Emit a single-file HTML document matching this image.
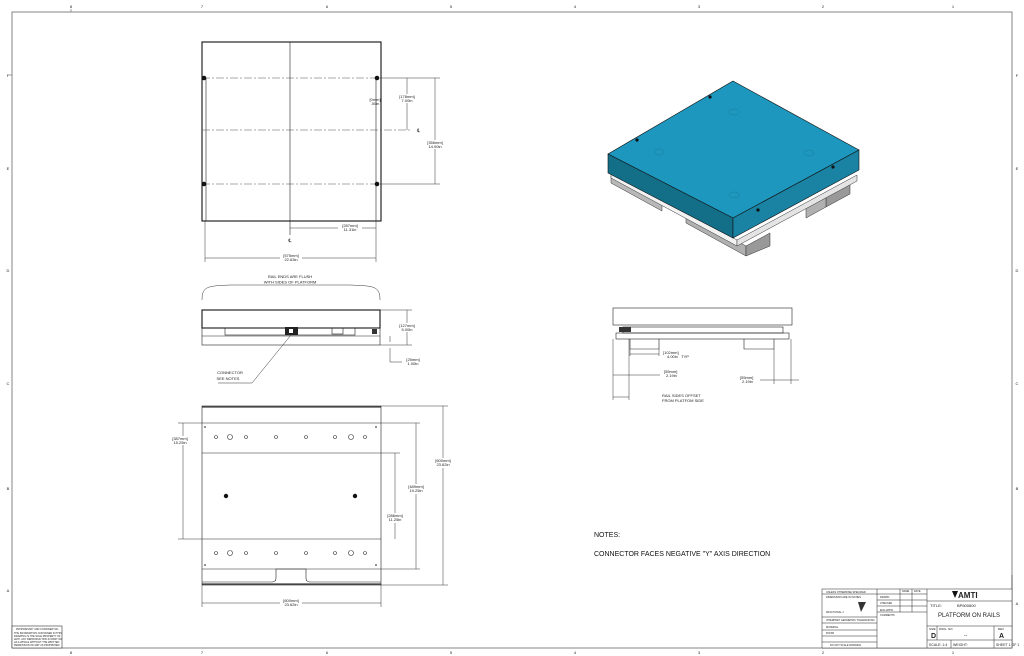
<!DOCTYPE html>
<html><head><meta charset="utf-8"><style>
html,body{margin:0;padding:0;background:#fff}
svg{display:block}
text{font-family:"Liberation Sans",sans-serif;fill:#222}
.t{font-size:4px;text-anchor:middle}
.l{stroke:#222;stroke-width:0.6;fill:none}
.k{stroke:#111;stroke-width:1.1;fill:none}
.c{stroke:#555;stroke-width:0.5;fill:none;stroke-dasharray:8 2 2 2}
.d{stroke:#333;stroke-width:0.5;fill:none}
</style></head><body>
<svg width="1024" height="656" viewBox="0 0 1024 656" xmlns="http://www.w3.org/2000/svg">
<rect x="12" y="12" width="1000" height="636" fill="none" stroke="#666" stroke-width="0.8"/>
<g class="t" style="font-size:4px">
<text x="71" y="8">8</text><text x="202" y="8">7</text><text x="327" y="8">6</text><text x="451" y="8">5</text><text x="575" y="8">4</text><text x="699" y="8">3</text><text x="823" y="8">2</text><text x="953" y="8">1</text>
<text x="71" y="654">8</text><text x="202" y="654">7</text><text x="327" y="654">6</text><text x="451" y="654">5</text><text x="575" y="654">4</text><text x="699" y="654">3</text><text x="823" y="654">2</text><text x="953" y="654">1</text>
<text x="8" y="77">F</text><text x="8" y="170">E</text><text x="8" y="272">D</text><text x="8" y="385">C</text><text x="8" y="490">B</text><text x="8" y="592">A</text>
<text x="1017" y="77">F</text><text x="1017" y="170">E</text><text x="1017" y="272">D</text><text x="1017" y="385">C</text><text x="1017" y="490">B</text><text x="1017" y="605">A</text>
</g>
<g stroke="#666" stroke-width="0.6"><line x1="71" y1="9" x2="71" y2="12"/><line x1="12" y1="75" x2="9" y2="75"/></g>

<!-- TOP VIEW -->
<rect x="202" y="42" width="179" height="179" class="k"/>
<line x1="206" y1="78" x2="206" y2="221" class="l"/><line x1="376" y1="78" x2="376" y2="221" class="l"/>
<line x1="202" y1="78" x2="381" y2="78" class="c"/><line x1="202" y1="184" x2="381" y2="184" class="c"/>
<line x1="202" y1="130" x2="410" y2="130" class="c"/><line x1="290" y1="42" x2="290" y2="235" class="l"/>
<g fill="#111"><circle cx="204" cy="78" r="2.3"/><circle cx="377" cy="78" r="2.3"/><circle cx="204" cy="184" r="2.3"/><circle cx="377" cy="184" r="2.3"/></g>
<g class="d"><line x1="380" y1="78" x2="440" y2="78"/><line x1="380" y1="184" x2="440" y2="184"/>
<line x1="407" y1="78" x2="407" y2="130"/><line x1="435" y1="78" x2="435" y2="184"/>
<line x1="290" y1="228" x2="376" y2="228"/><line x1="205" y1="258" x2="376" y2="258"/>
<line x1="205" y1="221" x2="205" y2="262"/><line x1="376" y1="221" x2="376" y2="262"/></g>
<text x="417" y="132" style="font-size:5px">℄</text><text x="290" y="242" style="font-size:5px" text-anchor="middle">℄</text>
<rect x="398" y="94" width="18" height="9" fill="#fff"/><text class="t" x="407" y="98">[178mm]</text><text class="t" x="407" y="102">7.00in</text>
<rect x="426" y="140" width="18" height="9" fill="#fff"/><text class="t" x="435" y="144">[356mm]</text><text class="t" x="435" y="148">14.00in</text>
<text class="t" x="375" y="101">[0mm]</text><text class="t" x="375" y="105">.00in</text>
<rect x="338" y="223" width="24" height="9" fill="#fff"/><text class="t" x="350" y="227">[287mm]</text><text class="t" x="350" y="231">11.31in</text>
<rect x="280" y="253" width="22" height="9" fill="#fff"/><text class="t" x="291" y="257">[575mm]</text><text class="t" x="291" y="261">22.63in</text>

<!-- SIDE VIEW -->
<path d="M202,300 C202,286 208,286 230,285 L350,285 C374,286 380,286 380,300" class="d"/>
<text class="t" x="290" y="278">RAIL ENDS ARE FLUSH</text><text class="t" x="290" y="283.5">WITH SIDES OF PLATFORM</text>
<rect x="202" y="310" width="178" height="18" class="k"/>
<rect x="202" y="328" width="178" height="17" class="l"/>
<line x1="202" y1="336" x2="380" y2="336" class="l"/>
<rect x="225" y="328" width="130" height="7" class="l"/>
<rect x="332" y="328" width="11" height="6" class="l"/>
<rect x="285" y="327" width="13" height="8" fill="#222"/><rect x="289" y="329" width="4" height="4" fill="#fff"/>
<rect x="372" y="329" width="5" height="5" fill="#333"/>
<g class="d"><line x1="380" y1="310" x2="412" y2="310"/><line x1="380" y1="345" x2="412" y2="345"/><line x1="407" y1="310" x2="407" y2="345"/>
<line x1="390" y1="336" x2="390" y2="342"/><line x1="390" y1="348" x2="390" y2="362"/><line x1="390" y1="362" x2="402" y2="362"/>
<polyline points="291,335 252,383 218,383"/></g>
<rect x="398" y="323" width="18" height="9" fill="#fff"/><text class="t" x="407" y="327">[127mm]</text><text class="t" x="407" y="331">5.00in</text>
<text class="t" x="413" y="361">[25mm]</text><text class="t" x="413" y="365">1.00in</text>
<text class="t" x="230" y="374">CONNECTOR</text><text class="t" x="228" y="380">SEE NOTES</text>

<!-- BOTTOM VIEW -->
<rect x="202" y="406" width="179" height="179" class="l"/>
<line x1="202" y1="407" x2="381" y2="407" class="k"/><line x1="202" y1="584" x2="381" y2="584" class="k"/>
<g class="l"><line x1="202" y1="423" x2="381" y2="423"/><line x1="202" y1="453" x2="381" y2="453"/><line x1="202" y1="539" x2="381" y2="539"/><line x1="202" y1="569" x2="381" y2="569"/>
<path d="M202,582 L272,582 Q276,582 276,578 L276,569 L306,569 L306,578 Q306,582 310,582 L381,582"/></g>
<g fill="none" stroke="#333" stroke-width="0.6">
<circle cx="216" cy="437" r="1.5"/><circle cx="230" cy="437" r="2.5"/><circle cx="246" cy="437" r="1.5"/><circle cx="276" cy="437" r="1.5"/><circle cx="306" cy="437" r="1.5"/><circle cx="335" cy="437" r="1.5"/><circle cx="351" cy="437" r="2.5"/><circle cx="365" cy="437" r="1.5"/>
<circle cx="216" cy="553" r="1.5"/><circle cx="230" cy="553" r="2.5"/><circle cx="246" cy="553" r="1.5"/><circle cx="276" cy="553" r="1.5"/><circle cx="306" cy="553" r="1.5"/><circle cx="335" cy="553" r="1.5"/><circle cx="351" cy="553" r="2.5"/><circle cx="365" cy="553" r="1.5"/></g>
<g fill="#111"><circle cx="226" cy="496" r="2.2"/><circle cx="355" cy="496" r="2.2"/>
<circle cx="205" cy="427" r="0.8"/><circle cx="376" cy="427" r="0.8"/><circle cx="205" cy="565" r="0.8"/><circle cx="376" cy="565" r="0.8"/></g>
<g class="d"><line x1="178" y1="423" x2="202" y2="423"/><line x1="178" y1="539" x2="202" y2="539"/><line x1="183" y1="423" x2="183" y2="539"/>
<line x1="381" y1="406" x2="448" y2="406"/><line x1="381" y1="585" x2="448" y2="585"/><line x1="443" y1="406" x2="443" y2="585"/>
<line x1="381" y1="423" x2="420" y2="423"/><line x1="381" y1="569" x2="420" y2="569"/><line x1="416" y1="423" x2="416" y2="569"/>
<line x1="381" y1="453" x2="400" y2="453"/><line x1="395" y1="453" x2="395" y2="539"/>
<line x1="202" y1="585" x2="202" y2="607"/><line x1="381" y1="585" x2="381" y2="607"/><line x1="202" y1="603" x2="381" y2="603"/></g>
<rect x="170" y="436" width="18" height="9" fill="#fff"/><text class="t" x="180" y="440">[387mm]</text><text class="t" x="180" y="444">15.25in</text>
<rect x="432" y="458" width="22" height="10" fill="#fff"/><text class="t" x="443" y="462">[600mm]</text><text class="t" x="443" y="466">23.62in</text>
<rect x="405" y="484" width="22" height="10" fill="#fff"/><text class="t" x="416" y="488">[489mm]</text><text class="t" x="416" y="492">19.25in</text>
<rect x="384" y="513" width="22" height="10" fill="#fff"/><text class="t" x="395" y="517">[286mm]</text><text class="t" x="395" y="521">11.25in</text>
<rect x="280" y="598" width="22" height="10" fill="#fff"/><text class="t" x="291" y="602">[600mm]</text><text class="t" x="291" y="606">23.62in</text>

<!-- ISO VIEW -->
<g stroke="#333" stroke-width="0.5">
<!-- lower rail bars -->
<polygon points="611,176 662,204 662,211 611,183" fill="#b8b8b8"/>
<polygon points="686,213 746,246 746,256 686,223" fill="#b0b0b0"/>
<polygon points="746,246 770,233 770,246 746,256" fill="#999"/>
<polygon points="826,197 850,184 850,194 826,207" fill="#999"/>
<polygon points="806,208 826,197 826,207 806,218" fill="#b0b0b0"/>
<!-- thin white plates -->
<polygon points="611,172 737,240 737,246 611,178" fill="#f2f2f2"/>
<polygon points="737,240 857,175 857,181 737,246" fill="#e4e4e4"/>
</g>
<polygon points="733,81 859,150 733,218 608,154" fill="#1d97bd" stroke="#111" stroke-width="0.6"/>
<polygon points="608,154 733,218 733,238 608,173" fill="#136e88" stroke="#111" stroke-width="0.6"/>
<polygon points="733,218 859,150 859,170 733,238" fill="#1a83a3" stroke="#111" stroke-width="0.6"/>
<g fill="#111"><circle cx="710" cy="97" r="1.6"/><circle cx="637" cy="140" r="1.6"/><circle cx="833" cy="167" r="1.6"/><circle cx="758" cy="210" r="1.6"/></g>
<g fill="none" stroke="#177c9a" stroke-width="0.5"><ellipse cx="734" cy="112" rx="5" ry="3"/><ellipse cx="659" cy="152" rx="5" ry="3"/><ellipse cx="809" cy="153" rx="5" ry="3"/><ellipse cx="734" cy="195" rx="5" ry="3"/></g>

<!-- SIDE VIEW 2 -->
<rect x="613" y="308" width="179" height="17" class="l"/>
<rect x="623" y="327" width="160" height="6" class="l"/>
<rect x="616" y="333" width="173" height="6" class="l"/>
<rect x="619" y="327" width="12" height="5" fill="#333"/>
<g class="l"><polyline points="630,339 630,349 659,349 659,339"/><polyline points="744,339 744,349 774,349 774,339"/></g>
<g class="d"><line x1="613" y1="339" x2="613" y2="400"/><line x1="629" y1="339" x2="629" y2="400"/><line x1="630" y1="349" x2="630" y2="356"/><line x1="659" y1="349" x2="659" y2="356"/>
<line x1="630" y1="354" x2="659" y2="354"/><line x1="613" y1="375" x2="660" y2="375"/><line x1="613" y1="397" x2="629" y2="397"/>
<line x1="774" y1="349" x2="774" y2="384"/><line x1="791" y1="339" x2="791" y2="384"/><line x1="760" y1="380" x2="799" y2="380"/></g>
<text x="663" y="354" style="font-size:4px">[102mm]</text><text x="667" y="358" style="font-size:4px">4.00in &#160; TYP</text>
<text x="664" y="373" style="font-size:4px">[55mm]</text><text x="666" y="377" style="font-size:4px">2.19in</text>
<text x="740" y="379" style="font-size:4px">[55mm]</text><text x="742" y="383" style="font-size:4px">2.19in</text>
<text x="662" y="397" style="font-size:4px">RAIL SIDES OFFSET</text><text x="662" y="402" style="font-size:4px">FROM PLATFOM SIDE</text>

<!-- NOTES -->
<text x="594" y="537" style="font-size:7px;fill:#111">NOTES:</text>
<text x="594" y="556" style="font-size:7px;fill:#111">CONNECTOR FACES NEGATIVE "Y" AXIS DIRECTION</text>

<!-- CONFIDENTIAL BOX -->
<rect x="12" y="626" width="50" height="22" fill="#fff" stroke="#333" stroke-width="0.6"/>
<g style="font-size:2.5px"><text x="16" y="630">PROPRIETARY AND CONFIDENTIAL</text><text x="14" y="634">THE INFORMATION CONTAINED IN THIS</text><text x="14" y="637">DRAWING IS THE SOLE PROPERTY OF</text><text x="14" y="640">AMTI. ANY REPRODUCTION IN PART OR</text><text x="14" y="643">AS A WHOLE WITHOUT THE WRITTEN</text><text x="14" y="646">PERMISSION OF AMTI IS PROHIBITED.</text></g>

<!-- TITLE BLOCK -->
<g stroke="#222" stroke-width="0.5" fill="none">
<rect x="822" y="589" width="190" height="59" fill="#fff"/>
<line x1="877" y1="589" x2="877" y2="648"/><line x1="900" y1="589" x2="900" y2="612"/><line x1="912" y1="589" x2="912" y2="612"/><line x1="927" y1="589" x2="927" y2="648"/>
<line x1="877" y1="594" x2="927" y2="594"/><line x1="877" y1="600" x2="927" y2="600"/><line x1="877" y1="606" x2="927" y2="606"/><line x1="877" y1="612" x2="927" y2="612"/>
<line x1="822" y1="594" x2="877" y2="594"/><line x1="822" y1="617" x2="877" y2="617"/><line x1="822" y1="623" x2="877" y2="623"/><line x1="822" y1="630" x2="877" y2="630"/><line x1="822" y1="636" x2="877" y2="636"/><line x1="822" y1="642" x2="877" y2="642"/>
<line x1="927" y1="601" x2="1012" y2="601"/><line x1="927" y1="626" x2="1012" y2="626"/><line x1="927" y1="640" x2="1012" y2="640"/>
<line x1="937" y1="626" x2="937" y2="640"/><line x1="994" y1="626" x2="994" y2="648"/><line x1="951" y1="640" x2="951" y2="648"/>
<line x1="1012" y1="589" x2="1012" y2="575"/>
</g>
<g style="font-size:2.5px"><text x="826" y="593">UNLESS OTHERWISE SPECIFIED</text><text x="826" y="598">DIMENSIONS ARE IN INCHES</text><text x="826" y="613">FRACTIONAL ±</text><text x="826" y="621">INTERPRET GEOMETRIC TOLERANCING</text><text x="826" y="628">MATERIAL</text><text x="826" y="634">FINISH</text><text x="830" y="646">DO NOT SCALE DRAWING</text>
<text x="880" y="598">DRAWN</text><text x="880" y="604">CHECKED</text><text x="880" y="611">ENG APPR.</text><text x="880" y="616">COMMENTS</text><text x="902" y="592">NAME</text><text x="914" y="592">DATE</text></g>
<path d="M858,602 L866,602 L861,612 Z" fill="#333"/>
<text x="958" y="598" style="font-size:8px;font-weight:bold">AMTI</text><path d="M952,591 L958,591 L955,598 Z" fill="#111"/>
<text x="930" y="607" style="font-size:4px">TITLE:</text><text x="957" y="607" style="font-size:4px">BP600600</text>
<text x="969" y="617" style="font-size:6px;text-anchor:middle">PLATFORM ON RAILS</text>
<text x="929" y="630" style="font-size:3px">SIZE</text><text x="939" y="630" style="font-size:3px">DWG. NO.</text><text x="998" y="630" style="font-size:3px">REV</text>
<text x="931" y="638" style="font-size:7px;font-weight:bold">D</text><text x="964" y="637" style="font-size:5px">--</text><text x="999" y="638" style="font-size:7px;font-weight:bold">A</text>
<text x="929" y="646" style="font-size:3.5px">SCALE: 1:4</text><text x="953" y="646" style="font-size:3.5px">WEIGHT:</text><text x="996" y="646" style="font-size:3.5px">SHEET 1 OF 1</text>
</svg>
</body></html>
